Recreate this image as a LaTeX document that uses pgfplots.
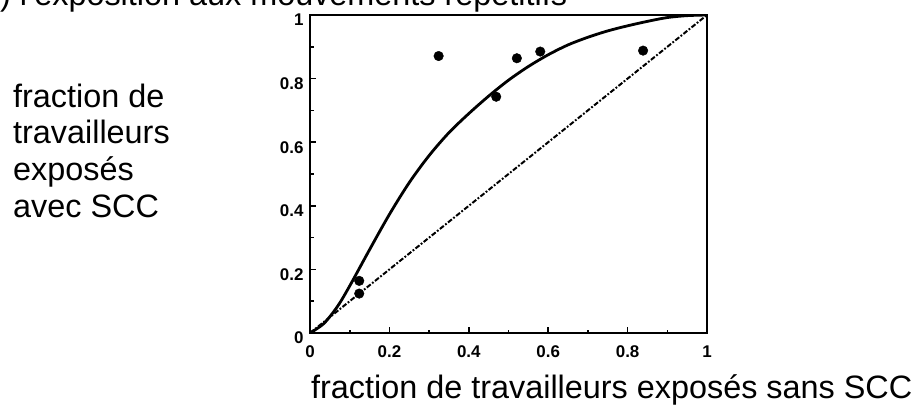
\documentclass[border=0pt]{standalone}
\usepackage{fontspec}
\setmainfont{Liberation Sans}
\usepackage{pgfplots}
\pgfplotsset{compat=1.18}
\begin{document}
\begin{tikzpicture}[x=1bp,y=1bp]
\useasboundingbox (0,0) rectangle (922,408);
\node[anchor=base west, inner sep=0, font=\fontsize{32.5}{36}\selectfont] at (0,402) {) l'exposition aux mouvements répétitifs};
\node[anchor=base west, inner sep=0, font=\fontsize{32.5}{36}\selectfont] at (13,301) {fraction de};
\node[anchor=base west, inner sep=0, font=\fontsize{32.5}{36}\selectfont] at (13,265) {travailleurs};
\node[anchor=base west, inner sep=0, font=\fontsize{32.5}{36}\selectfont] at (13,228) {exposés};
\node[anchor=base west, inner sep=0, font=\fontsize{32.5}{36}\selectfont] at (13,191) {avec SCC};
\node[anchor=base west, inner sep=0, font=\fontsize{32.5}{36}\selectfont] at (311,10) {fraction de travailleurs exposés sans SCC};
\begin{axis}[
  at={(310bp,75bp)}, anchor=south west,
  scale only axis, width=397bp, height=318bp,
  xmin=0, xmax=1, ymin=0, ymax=1,
  axis line style={line width=2bp},
  xtick={0,0.2,0.4,0.6,0.8,1}, ytick={0,0.2,0.4,0.6,0.8,1},
  xticklabels={0,0.2,0.4,0.6,0.8,1}, yticklabels={0,0.2,0.4,0.6,0.8,1},
  minor tick num=1,
  tick pos=left, tick align=inside,
  major tick length=6bp, minor tick length=3.5bp,
  every tick/.style={black, line width=1.6bp},
  ticklabel style={font=\fontsize{17}{17}\selectfont\bfseries},
  /pgf/number format/assume math mode=true,
  xticklabel style={yshift=-9bp},
  yticklabel style={xshift=-3bp, yshift=-5bp},
]
\addplot[black, dash pattern=on 5bp off 1.8bp on 1.8bp off 1.8bp, line width=2bp] coordinates {(0,0) (1,1)};
\addplot[black, line width=2.8bp, smooth, line join=round] coordinates {
(0,0) (0.035,0.03) (0.07,0.085) (0.1,0.148) (0.15,0.262) (0.2,0.373) (0.25,0.473) (0.3,0.558)
(0.35,0.63) (0.4,0.69) (0.45,0.745) (0.5,0.795) (0.55,0.838) (0.6,0.875)
(0.65,0.906) (0.7,0.93) (0.75,0.95) (0.8,0.966) (0.85,0.98) (0.9,0.992) (0.95,0.998) (1,1)};
\addplot[only marks, mark=*, mark size=4.8bp, black] coordinates {
(0.324,0.871) (0.521,0.864) (0.58,0.885) (0.839,0.888) (0.469,0.743) (0.124,0.164) (0.124,0.124)};
\end{axis}
\end{tikzpicture}
\end{document}
